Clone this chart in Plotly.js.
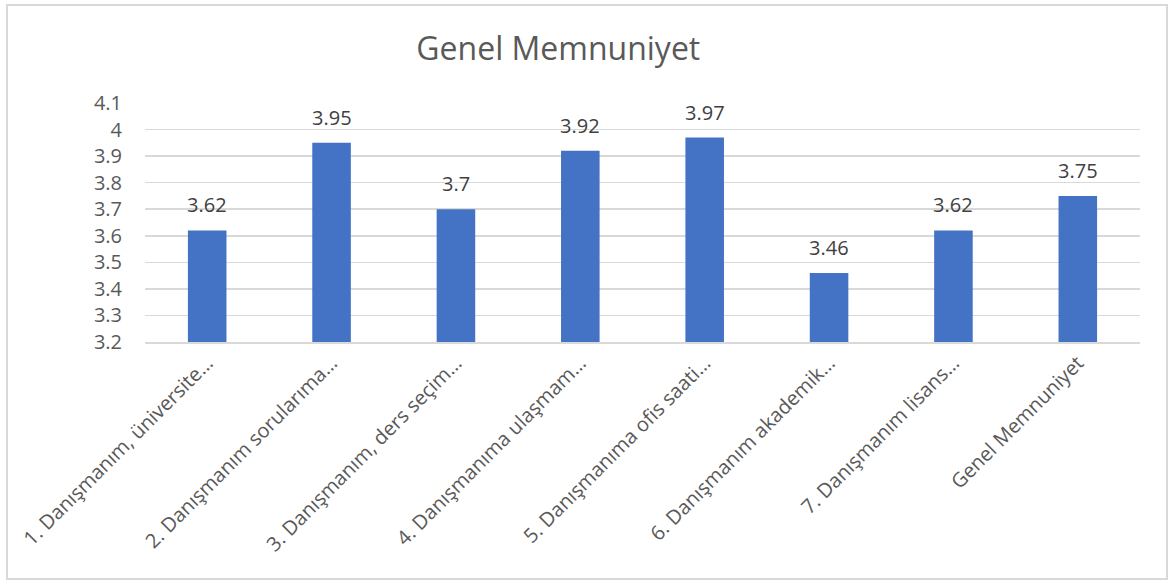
<!DOCTYPE html>
<html>
<head>
<meta charset="utf-8">
<script src="https://cdn.plot.ly/plotly-3.0.1.min.js"></script>
<style>
  html, body { margin: 0; padding: 0; background: #fff; }
  #chart { width: 1168px; height: 581px; }
  #frame { position: absolute; left: 6px; top: 4px; width: 1158px; height: 572px; border: 2px solid #d9d9d9; pointer-events: none; }
</style>
</head>
<body>
<div id="chart"></div>
<div id="frame"></div>
<script>
const categories = [
  "1. Danışmanım, üniversite…",
  "2. Danışmanım sorularıma…",
  "3. Danışmanım, ders seçim…",
  "4. Danışmanıma ulaşmam…",
  "5. Danışmanıma ofis saati…",
  "6. Danışmanım akademik…",
  "7. Danışmanım lisans…",
  "Genel Memnuniyet"
];
const values = [3.62, 3.95, 3.7, 3.92, 3.97, 3.46, 3.62, 3.75];
const valueLabels = ["3.62", "3.95", "3.7", "3.92", "3.97", "3.46", "3.62", "3.75"];
const chartTitle = "Genel Memnuniyet";

const FONT = "Open Sans, Noto Sans, sans-serif";

const trace = {
  type: "bar",
  x: categories,
  y: values,
  marker: { color: "#4472C4" },
  hoverinfo: "x+y"
};

const annotations = categories.map((c, i) => ({
  x: c,
  y: values[i],
  xref: "x",
  yref: "y",
  text: valueLabels[i],
  showarrow: false,
  yanchor: "bottom",
  yshift: 10,
  font: { family: FONT, size: 20, color: "#404040" }
}));

const layout = {
  width: 1168,
  height: 581,
  margin: { l: 145, r: 28, t: 103, b: 239 },
  paper_bgcolor: "#ffffff",
  plot_bgcolor: "#ffffff",
  showlegend: false,
  bargap: 0.69,
  title: {
    text: chartTitle,
    x: 0.478,
    xanchor: "center",
    xref: "container",
    y: 0.916,
    yanchor: "middle",
    yref: "container",
    font: { family: FONT, size: 32, color: "#595959" }
  },
  xaxis: {
    type: "category",
    tickangle: -45,
    tickfont: { family: FONT, size: 20, color: "#595959" },
    showgrid: false,
    showline: true,
    linecolor: "#d9d9d9",
    linewidth: 1.5,
    ticks: "",
    automargin: false
  },
  yaxis: {
    range: [3.2, 4.1],
    dtick: 0.1,
    tick0: 3.2,
    showgrid: true,
    gridcolor: "#d9d9d9",
    gridwidth: 1.5,
    zeroline: false,
    showline: false,
    ticks: "outside",
    ticklen: 18,
    tickcolor: "rgba(0,0,0,0)",
    tickfont: { family: FONT, size: 20, color: "#595959" },
    automargin: false
  },
  annotations: annotations
};

Plotly.newPlot("chart", [trace], layout, { displayModeBar: false, staticPlot: true });
</script>
</body>
</html>
